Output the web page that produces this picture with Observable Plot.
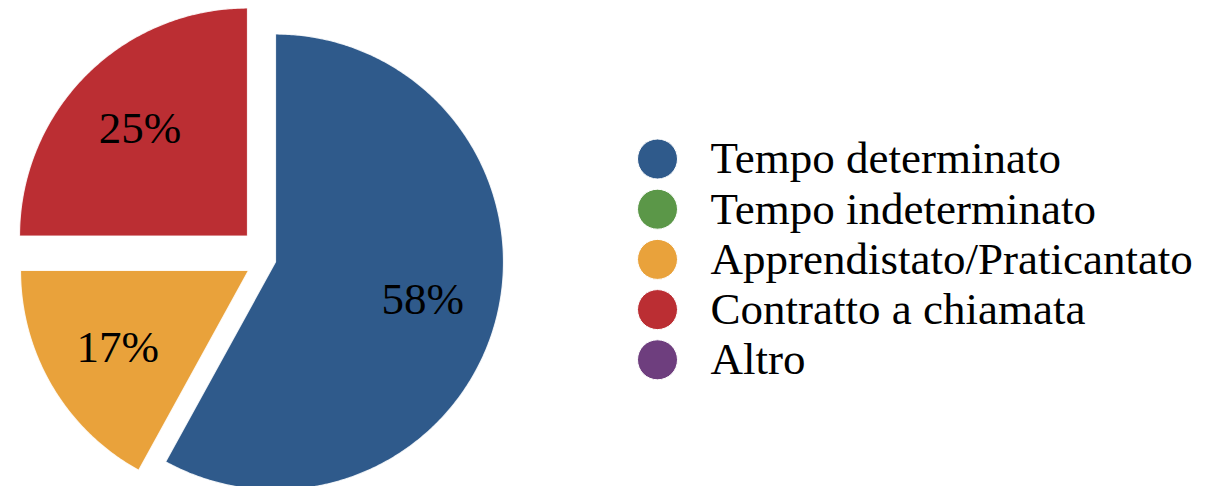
<!DOCTYPE html>
<html><head><meta charset="utf-8">
<script src="https://cdn.jsdelivr.net/npm/d3@7"></script>
<script src="https://cdn.jsdelivr.net/npm/@observablehq/plot@0.6"></script>
<style>html,body{margin:0;padding:0;background:#fff;overflow:hidden}</style>
</head><body><div id="chart"></div>
<script>
// ---- data ----
const categories = ["Tempo determinato","Tempo indeterminato","Apprendistato/Praticantato","Contratto a chiamata","Altro"];
const values = [58, 0, 17, 25, 0];
const labels = values.map(v => v + "%");

// ---- style / layout ----
const palette = ["#2F5A8B","#5B9748","#E9A23B","#BB2E33","#6E3E7E"];
const W = 1220, H = 486, R = 228, cx = 275, cy = 261.5;
const explode = {"Contratto a chiamata": [-28, -26], "Apprendistato/Praticantato": [-27, 8.5]};
const FONT = "'Liberation Serif', 'DejaVu Serif', serif";

const rows = categories.map((c, i) => ({category: c, value: values[i], label: labels[i]}));
const arcs = d3.pie().sort(null).value(d => d.value)(rows).filter(a => a.data.value > 0);

function slicePoints(a) {
  const pts = [{u: 0, v: 0}];
  const n = Math.max(2, Math.ceil((a.endAngle - a.startAngle) / (Math.PI / 360)));
  for (let k = 0; k <= n; k++) {
    const t = a.startAngle + (a.endAngle - a.startAngle) * k / n;
    pts.push({u: Math.sin(t), v: Math.cos(t)});
  }
  pts.push({u: 0, v: 0});
  return pts.map(p => ({...p, category: a.data.category}));
}

const marks = [];
for (const a of arcs) {
  const [dx, dy] = explode[a.data.category] || [0, 0];
  marks.push(Plot.line(slicePoints(a), {x: "u", y: "v", fill: "category", stroke: "white", strokeWidth: 1.2, strokeOpacity: 0.85, dx, dy}));
}
for (const a of arcs) {
  const [dx, dy] = explode[a.data.category] || [0, 0];
  const m = (a.startAngle + a.endAngle) / 2;
  marks.push(Plot.text([a.data], {x: () => Math.sin(m) * 2 / 3, y: () => Math.cos(m) * 2 / 3, text: "label", dx, dy, fontSize: 45, fill: "black"}));
}

const legendRows = categories.map((c, i) => ({category: c, u: (657 - cx) / R, v: (cy - (158.5 + 50.2 * i)) / R}));
marks.push(Plot.dot(legendRows, {x: "u", y: "v", r: 20, fill: "category", stroke: "white", strokeWidth: 1}));
marks.push(Plot.text(legendRows, {x: "u", y: "v", text: "category", dx: 53, textAnchor: "start", fontSize: 45, fill: "black"}));

const chart = Plot.plot({
  width: W, height: H,
  margin: 0,
  x: {domain: [-cx / R, (W - cx) / R], axis: null},
  y: {domain: [(cy - H) / R, cy / R], axis: null},
  color: {domain: categories, range: palette},
  style: {fontFamily: FONT, background: "white", overflow: "hidden"},
  marks
});
document.getElementById("chart").appendChild(chart);
</script>
</body></html>
